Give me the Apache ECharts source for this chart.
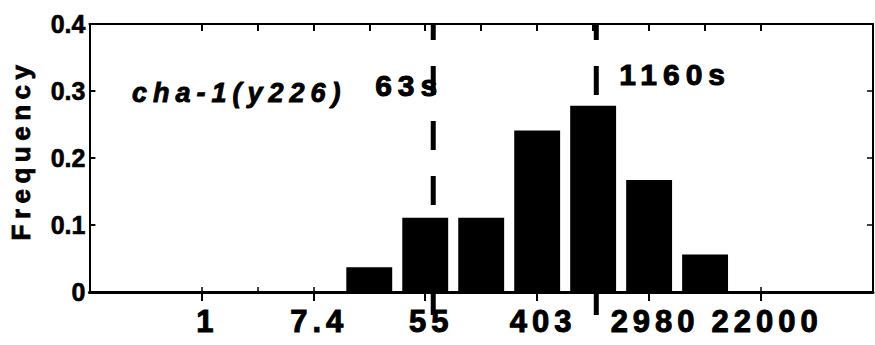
<!DOCTYPE html>
<html>
<head>
<meta charset="utf-8">
<title>cha-1(y226) frequency histogram</title>
<script src="https://cdn.jsdelivr.net/npm/echarts@6/dist/echarts.min.js"></script>
<style>
  html, body { margin: 0; padding: 0; background: #fff; }
  #chart { width: 875px; height: 345px; }
  /* wide tracking for the large bold lettering */
  #chart text[style*="31px"] { letter-spacing: 5px; }
  #chart text[style*="30px"] { letter-spacing: 6px; }
  #chart text[style*="27px"] { letter-spacing: 6px; }
  #chart text[style*="26px"] { letter-spacing: 5.5px; }
</style>
</head>
<body>
<div id="chart"></div>
<script>
// Histogram bins: centres in natural-log units of time (s)
const binCenters = [3, 4, 5, 6, 7, 8, 9];
const frequency = [0.037, 0.111, 0.111, 0.241, 0.278, 0.167, 0.056];

// x-axis ticks (ln units) and their labels in seconds
const tickValues = [0, 2, 4, 6, 8, 10];
const tickLabels = ['1', '7.4', '55', '403', '2980', '22000'];
const minorTickValues = [0, 1, 2, 3, 4, 5, 6, 7, 8, 9, 10];

// y-axis ticks
const yTicks = [0, 0.1, 0.2, 0.3, 0.4];
const yTickLabels = ['0', '0.1', '0.2', '0.3', '0.4'];

// median times (s) marked with dashed lines
const medianTimes = [63, 1160];
const medianLabels = ['63s', '1160s'];

const strainLabel = 'cha-1(y226)';

const FONT = '"Liberation Sans", Arial, Helvetica, sans-serif';
const X_MIN = -2, X_MAX = 12, Y_MAX = 0.4;

const chart = echarts.init(document.getElementById('chart'), null, { renderer: 'svg' });

const axisLineStyle = { color: '#000', width: 2 };

chart.setOption({
  animation: false,
  backgroundColor: '#fff',
  grid: { left: 89, right: 2, top: 24, bottom: 53 },
  xAxis: [
    {
      type: 'value', position: 'bottom', min: X_MIN, max: X_MAX, interval: 1,
      axisLine: { show: true, onZero: false, lineStyle: { color: '#000', width: 3 } },
      axisTick: { show: true, inside: false, length: 9, customValues: tickValues,
                  lineStyle: { color: '#000', width: 2 } },
      axisLabel: {
        customValues: tickValues, margin: 14, padding: [0, 0, 0, 12],
        color: '#000', fontFamily: FONT, fontWeight: 'bold', fontSize: 31,
        textBorderColor: '#000', textBorderWidth: 1,
        formatter: v => { const i = tickValues.indexOf(v); return i >= 0 ? tickLabels[i] : ''; }
      },
      splitLine: { show: false }
    },
    {
      type: 'value', position: 'top', min: X_MIN, max: X_MAX, interval: 1,
      axisLine: { show: true, onZero: false, lineStyle: axisLineStyle },
      axisTick: { show: true, inside: true, length: 7, customValues: minorTickValues,
                  lineStyle: { color: '#000', width: 2 } },
      axisLabel: { show: false },
      splitLine: { show: false }
    },
    {
      type: 'value', position: 'bottom', min: X_MIN, max: X_MAX, interval: 1,
      axisLine: { show: false, onZero: false },
      axisTick: { show: true, inside: true, length: 5, customValues: minorTickValues,
                  lineStyle: { color: '#000', width: 1.5 } },
      axisLabel: { show: false },
      splitLine: { show: false }
    }
  ],
  yAxis: [
    {
      type: 'value', position: 'left', min: 0, max: Y_MAX, interval: 0.1,
      name: 'Frequency', nameLocation: 'middle', nameGap: 55,
      nameTextStyle: { color: '#000', fontFamily: FONT, fontWeight: 'bold', fontSize: 26,
                       padding: [0, 0, 0, 16], textBorderColor: '#000', textBorderWidth: 0.8 },
      axisLine: { show: true, onZero: false, lineStyle: axisLineStyle },
      axisTick: { show: true, inside: true, length: 6, lineStyle: { color: '#000', width: 2 } },
      axisLabel: {
        margin: 4, color: '#000', fontFamily: FONT, fontWeight: 'bold', fontSize: 25,
        textBorderColor: '#000', textBorderWidth: 0.6,
        formatter: v => {
          const i = yTicks.findIndex(t => Math.abs(t - v) < 1e-9);
          return i >= 0 ? yTickLabels[i] : '';
        }
      },
      splitLine: { show: false }
    },
    {
      type: 'value', position: 'right', min: 0, max: Y_MAX, interval: 0.1,
      axisLine: { show: true, onZero: false, lineStyle: axisLineStyle },
      axisTick: { show: true, inside: true, length: 6, lineStyle: { color: '#000', width: 1.5 } },
      axisLabel: { show: false },
      splitLine: { show: false }
    }
  ],
  graphic: [
    {
      type: 'text', x: 132, y: 93, z: 10,
      style: {
        text: strainLabel, fill: '#000', verticalAlign: 'middle',
        font: 'italic bold 27px ' + FONT,
        stroke: '#000', lineWidth: 0.9
      }
    }
  ],
  series: [
    {
      type: 'bar',
      xAxisIndex: 0, yAxisIndex: 0,
      barWidth: '82%',
      itemStyle: { color: '#000' },
      data: binCenters.map((c, i) => [c, frequency[i]])
    },
    {
      type: 'custom',
      xAxisIndex: 0, yAxisIndex: 0,
      clip: false, z: 5,
      encode: { x: 0, y: 1 },
      data: medianTimes.map(t => [Math.log(t), 0]),
      renderItem: (params, api) => {
        const x = api.value(0);
        const top = api.coord([x, Y_MAX]);
        const base = api.coord([x, 0]);
        const leftSide = params.dataIndex === 0;
        return {
          type: 'group',
          children: [
            {
              type: 'line',
              shape: { x1: top[0], y1: top[1], x2: base[0], y2: base[1] + 23 },
              style: { stroke: '#000', lineWidth: 5, lineDash: [29, 26], lineDashOffset: 13 }
            },
            {
              type: 'text',
              style: {
                text: medianLabels[params.dataIndex],
                x: leftSide ? top[0] + 10 : top[0] + 23,
                y: leftSide ? top[1] + 61 : top[1] + 50,
                align: leftSide ? 'right' : 'left',
                verticalAlign: 'middle',
                fill: '#000',
                stroke: '#000', lineWidth: 1,
                font: 'bold 30px ' + FONT
              }
            }
          ]
        };
      }
    }
  ]
});
</script>
</body>
</html>
